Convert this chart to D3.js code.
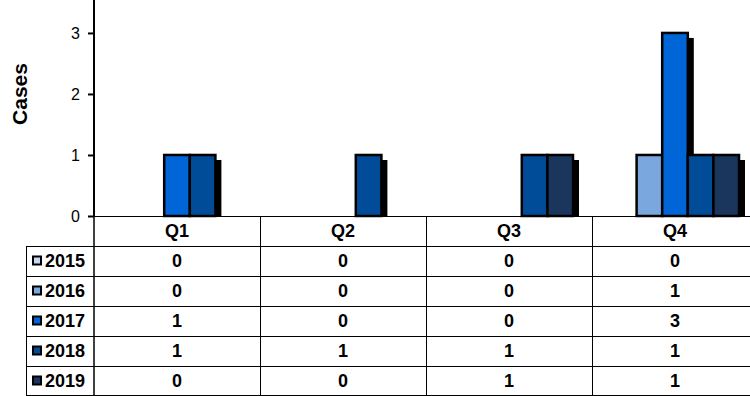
<!DOCTYPE html>
<html>
<head>
<meta charset="utf-8">
<script src="https://cdn.jsdelivr.net/npm/d3@7"></script>
<style>
  html, body { margin: 0; padding: 0; background: #fff; }
  svg { display: block; }
  text { font-family: "Liberation Sans", Arial, sans-serif; }
</style>
</head>
<body>
<svg id="chart" width="750" height="396"></svg>
<script>
const quarters = ["Q1", "Q2", "Q3", "Q4"];
const years = ["2015", "2016", "2017", "2018", "2019"];
const values2015 = [0, 0, 0, 0];
const values2016 = [0, 0, 0, 1];
const values2017 = [1, 0, 0, 3];
const values2018 = [1, 1, 1, 1];
const values2019 = [0, 0, 1, 1];
const yTicks = [0, 1, 2, 3];
const colors = ["#c6d9f1", "#7ba7df", "#0066d8", "#004c99", "#1a365c"];

const seriesValues = [values2015, values2016, values2017, values2018, values2019];
const series = years.map((y, i) => ({ year: y, color: colors[i], values: seriesValues[i] }));

const svg = d3.select("#chart");
const W = 750, H = 396;
const x0 = 94, baseY = 216, rightX = 758;
const rowH = 30, headerH = 30, legendLeft = 26;

const y = d3.scaleLinear().domain([0, 3.54]).range([baseY, 0]);
const xQ = d3.scaleBand().domain(quarters).range([x0, rightX]).padding(0);
const groupW = 128;
const xY = d3.scaleBand().domain(years).range([0, groupW]).padding(0);

// bars
const gBars = svg.append("g");
quarters.forEach((q, qi) => {
  const gx = xQ(q) + xQ.bandwidth() / 2 - groupW / 2;
  const items = series.map(s => ({ year: s.year, color: s.color, v: s.values[qi] })).filter(d => d.v > 0);
  gBars.selectAll(null).data(items).enter().append("rect")
    .attr("x", d => gx + xY(d.year) + 6)
    .attr("y", d => y(d.v) + 5)
    .attr("width", xY.bandwidth())
    .attr("height", d => baseY + 1 - (y(d.v) + 5))
    .attr("fill", "#000");
  gBars.selectAll(null).data(items).enter().append("rect")
    .attr("x", d => gx + xY(d.year))
    .attr("y", d => y(d.v))
    .attr("width", xY.bandwidth())
    .attr("height", d => baseY - y(d.v))
    .attr("fill", d => d.color)
    .attr("stroke", "#000")
    .attr("stroke-width", 2.5);
});

// y axis
const yAxis = d3.axisLeft(y).tickValues(yTicks).tickSize(6).tickPadding(8).tickFormat(d3.format("d"));
const gY = svg.append("g").attr("transform", `translate(${x0},0)`).call(yAxis);
gY.select(".domain").remove();
gY.selectAll(".tick line").attr("stroke", "#000").attr("stroke-width", 2);
gY.selectAll(".tick text").attr("font-size", 16).attr("fill", "#000")
  .attr("font-family", "Liberation Sans, Arial, sans-serif");
svg.append("line").attr("x1", x0).attr("x2", x0).attr("y1", 0).attr("y2", baseY)
  .attr("stroke", "#000").attr("stroke-width", 2);

// y label
svg.append("text")
  .attr("transform", `translate(27,94) rotate(-90)`)
  .attr("text-anchor", "middle")
  .attr("font-size", 21).attr("font-weight", "bold").attr("fill", "#000")
  .text("Cases");

// table
const gT = svg.append("g");
const lineColor = "#000";
gT.append("line").attr("x1", x0 - 6).attr("x2", W).attr("y1", baseY + 0.5).attr("y2", baseY + 0.5)
  .attr("stroke", lineColor).attr("stroke-width", 1);
for (let r = 0; r < years.length; r++) {
  const yy = baseY + headerH + r * rowH + 0.5;
  gT.append("line").attr("x1", legendLeft).attr("x2", W).attr("y1", yy).attr("y2", yy)
    .attr("stroke", lineColor).attr("stroke-width", 1);
}
gT.append("line").attr("x1", legendLeft).attr("x2", W).attr("y1", H - 0.5).attr("y2", H - 0.5)
  .attr("stroke", lineColor).attr("stroke-width", 1);
gT.append("line").attr("x1", legendLeft + 0.5).attr("x2", legendLeft + 0.5)
  .attr("y1", baseY + headerH).attr("y2", H).attr("stroke", lineColor).attr("stroke-width", 1);
gT.append("line").attr("x1", x0).attr("x2", x0)
  .attr("y1", baseY).attr("y2", H).attr("stroke", lineColor).attr("stroke-width", 1.5);
quarters.slice(1).forEach(q => {
  const xx = Math.round(xQ(q)) + 0.5;
  gT.append("line").attr("x1", xx).attr("x2", xx).attr("y1", baseY).attr("y2", H)
    .attr("stroke", lineColor).attr("stroke-width", 1);
});
gT.selectAll(null).data(quarters).enter().append("text")
  .attr("x", d => xQ(d) + xQ.bandwidth() / 2)
  .attr("y", baseY + headerH / 2)
  .attr("dy", "0.36em")
  .attr("text-anchor", "middle")
  .attr("font-size", 18).attr("font-weight", "bold").attr("fill", "#000")
  .text(d => d);
series.forEach((s, r) => {
  const cy = baseY + headerH + r * rowH + rowH / 2;
  gT.append("rect").attr("x", 33).attr("y", cy - 4.5).attr("width", 8).attr("height", 8)
    .attr("fill", s.color).attr("stroke", "#000").attr("stroke-width", 2);
  gT.append("text").attr("x", 45).attr("y", cy).attr("dy", "0.36em")
    .attr("font-size", 18).attr("font-weight", "bold").attr("fill", "#000")
    .text(s.year);
  gT.selectAll(null).data(s.values).enter().append("text")
    .attr("x", (d, i) => xQ(quarters[i]) + xQ.bandwidth() / 2)
    .attr("y", cy).attr("dy", "0.36em")
    .attr("text-anchor", "middle")
    .attr("font-size", 18).attr("font-weight", "bold").attr("fill", "#000")
    .text(d => d);
});
</script>
</body>
</html>
